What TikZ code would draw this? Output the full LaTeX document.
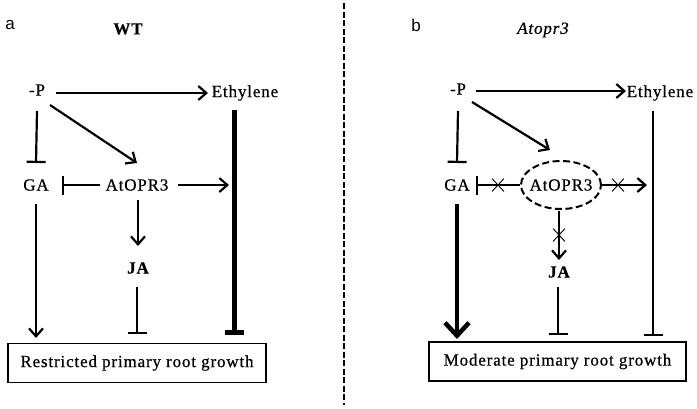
\documentclass[tikz,border=0pt]{standalone}
\usepackage{fontspec}
\setmainfont{Liberation Serif}[LetterSpace=5, FakeBold=0.6]
\newfontfamily\labelfont{Liberation Sans}
\usetikzlibrary{arrows.meta,shapes.misc,shapes.geometric}
\begin{document}
\begin{tikzpicture}[x=1pt,y=-1pt,
  lbl/.style={font=\fontsize{17}{20}\selectfont, inner sep=0pt},
  panel/.style={font=\labelfont\fontsize{17}{19}\selectfont, inner sep=0pt},
  act/.style={line width=2.2pt, -{Straight Barb[length=8pt,width=14pt]}},
  actthick/.style={line width=4.5pt, -{Straight Barb[length=13pt,width=24pt]}},
  inh/.style={line width=2.2pt, -{Bar[width=19pt]}},
  inhthick/.style={line width=5pt, -{Bar[width=19pt]}},
  growthbox/.style={draw, line width=1.3pt, minimum height=39pt, inner sep=0pt, font=\fontsize{17}{20}\selectfont},
  xmark/.style={cross out, draw, line width=0.9pt, minimum width=11pt, minimum height=12pt, inner sep=0pt},
  knockout/.style={draw, dashed, dash pattern=on 7pt off 3.5pt, line width=2pt},
]
\useasboundingbox (0,0) rectangle (697,408);

% divider
\draw[line width=1.8pt, dash pattern=on 6pt off 2.5pt] (344,3) -- (344,405);

% ---------------- panel a ----------------
\node[panel] (la) at (10,25) {a};
\node[lbl, font=\bfseries\fontsize{17}{20}\selectfont] (WT) at (128,29) {WT};
\node[lbl] (P) at (37,90) {-P};
\node[lbl] (Eth) at (245,93) {Ethylene};
\node[lbl] (GA) at (36,185) {GA};
\node[lbl] (OPR) at (137,185) {AtOPR3};
\node[lbl, font=\bfseries\fontsize{17}{20}\selectfont] (JA) at (138,268) {JA};
\node[growthbox, minimum width=258pt] (Box) at (137,363) {Restricted primary root growth};
\coordinate (EthLine) at (234,185);

\draw[act] ([xshift=19pt,yshift=-3pt]P.center) -- ([xshift=-37pt]Eth.center);
\draw[inh] ([yshift=-21pt]P.center) -- ([yshift=22pt]GA.center);
\draw[act] ([xshift=13pt,yshift=-15pt]P.center) -- ([yshift=22pt]OPR.center);
\draw[inh] ([xshift=-37pt]OPR.center) -- ([xshift=26pt]GA.center);
\draw[act] ([xshift=41pt]OPR.center) -- ([xshift=-5pt]EthLine);
\draw[inhthick] ([xshift=-11pt,yshift=-17pt]Eth.center) -- ([xshift=97pt,yshift=28pt]Box.center);
\draw[act] ([xshift=1pt,yshift=-15pt]OPR.center) -- ([yshift=22pt]JA.center);
\draw[inh] ([xshift=-1pt,yshift=-19pt]JA.center) -- ([yshift=29pt]Box.center);
\draw[act] ([yshift=-19pt]GA.center) -- ([xshift=-101pt,yshift=25pt]Box.center);

% ---------------- panel b ----------------
\node[panel] (lb) at (416,25) {b};
\node[lbl, font=\itshape\fontsize{17}{20}\selectfont] (Mut) at (543,30) {Atopr3};
\node[lbl] (P2) at (458,89) {-P};
\node[lbl] (Eth2) at (660,93) {Ethylene};
\node[lbl] (GA2) at (457,185) {GA};
\node[lbl] (OPR2) at (561,185) {AtOPR3};
\draw[knockout] (OPR2.center) ellipse [x radius=40pt, y radius=24pt];
\node[lbl, font=\bfseries\fontsize{17}{20}\selectfont] (JA2) at (559,272) {JA};
\node[growthbox, minimum width=257pt] (Box2) at (557.5,361.5) {Moderate primary root growth};
\coordinate (EthLine2) at (653,185);

\draw[act] ([xshift=18pt,yshift=-2pt]P2.center) -- ([xshift=-34pt,yshift=2pt]Eth2.center);
\draw[inh] ([yshift=-22pt]P2.center) -- ([yshift=22pt]GA2.center);
\draw[act] ([xshift=14pt,yshift=-13pt]P2.center) -- ([xshift=-11pt,yshift=35pt]OPR2.center);
\draw[inh] ([xshift=-41pt]OPR2.center) -- ([xshift=19pt]GA2.center);
\draw[act] ([xshift=41pt]OPR2.center) -- ([xshift=-6pt]EthLine2);
\draw[inh] ([xshift=-7pt,yshift=-18pt]Eth2.center) -- ([xshift=95.5pt,yshift=25.5pt]Box2.center);
\draw[act] ([xshift=-2pt,yshift=-26pt]OPR2.center) -- ([yshift=12pt]JA2.center);
\draw[inh] ([xshift=-1pt,yshift=-15pt]JA2.center) -- ([xshift=0.5pt,yshift=26.5pt]Box2.center);
\draw[actthick] ([yshift=-19pt]GA2.center) -- ([xshift=-100.5pt,yshift=22.5pt]Box2.center);

\node[xmark] (X1) at (498,185) {};
\node[xmark] (X2) at (618,185) {};
\node[xmark] (X3) at (559,235) {};
\end{tikzpicture}
\end{document}
